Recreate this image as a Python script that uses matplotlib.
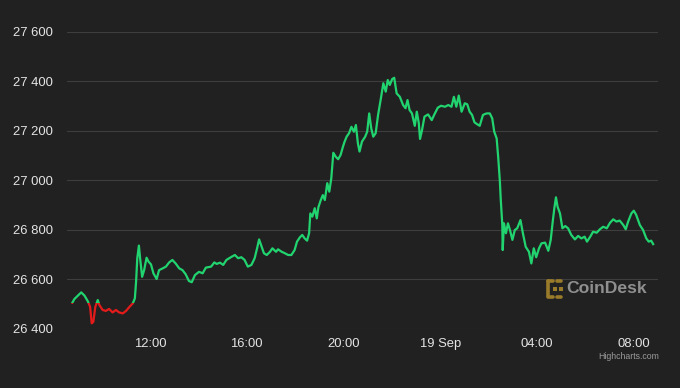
import matplotlib
matplotlib.use("Agg")
import matplotlib.pyplot as plt
from matplotlib.patches import Rectangle
from matplotlib.lines import Line2D

# minutes after 00:00 on 18 Sep, BTC price (USD)
minutes = [
    528, 533, 542, 550, 558, 566, 572, 576, 580, 585, 591, 595, 603, 611, 619, 628,
    636, 644, 653, 661, 670, 678, 683, 686, 689, 693, 696, 701, 706, 712, 717, 723,
    729, 737, 743, 752, 760, 768, 776, 784, 793, 801, 809, 817, 824, 832, 842, 851,
    859, 872, 880, 886, 894, 902, 910, 923, 931, 939, 947, 955, 963, 972, 980, 986,
    991, 996, 1003, 1010, 1018, 1024, 1033, 1038, 1047, 1055, 1063, 1071, 1079, 1085,
    1092, 1098, 1104, 1110, 1115, 1118, 1123, 1129, 1134, 1138, 1144, 1149, 1154, 1160,
    1165, 1170, 1175, 1181, 1187, 1193, 1199, 1203, 1208, 1214, 1220, 1226, 1231, 1236,
    1240, 1246, 1254, 1259, 1264, 1269, 1274, 1280, 1286, 1293, 1299, 1305, 1310, 1315,
    1321, 1326, 1332, 1340, 1348, 1354, 1359, 1364, 1370, 1377, 1382, 1387, 1390, 1395,
    1401, 1410, 1419, 1425, 1434, 1442, 1452, 1460, 1468, 1474, 1480, 1486, 1493, 1501,
    1507, 1513, 1519, 1525, 1532, 1538, 1546, 1555, 1563, 1569, 1574, 1580, 1584, 1588,
    1590, 1594, 1595, 1598, 1603, 1608, 1613, 1619, 1625, 1631, 1639, 1645, 1652, 1660,
    1666, 1672, 1678, 1685, 1691, 1700, 1708, 1714, 1719, 1723, 1727, 1731, 1737, 1743,
    1750, 1757, 1765, 1774, 1782, 1790, 1798, 1804, 1812, 1819, 1828, 1836, 1844, 1853,
    1861, 1869, 1877, 1885, 1894, 1900, 1906, 1914, 1920, 1926, 1935, 1943, 1951, 1957,
    1963, 1968,
]
prices = [
    26506, 26521, 26535, 26548, 26535, 26513, 26490, 26423, 26429, 26490, 26517, 26497,
    26477, 26473, 26481, 26467, 26477, 26467, 26463, 26473, 26490, 26504, 26524, 26591,
    26686, 26737, 26686, 26611, 26638, 26688, 26672, 26661, 26625, 26602, 26638, 26645,
    26652, 26669, 26679, 26665, 26645, 26638, 26621, 26594, 26589, 26618, 26631, 26625,
    26648, 26652, 26669, 26663, 26668, 26659, 26679, 26692, 26699, 26686, 26690, 26679,
    26652, 26659, 26686, 26726, 26762, 26739, 26706, 26699, 26712, 26726, 26712, 26722,
    26712, 26706, 26699, 26699, 26719, 26753, 26770, 26780, 26766, 26757, 26787, 26867,
    26854, 26888, 26847, 26892, 26921, 26941, 26921, 26989, 26955, 27009, 27112, 27096,
    27086, 27103, 27137, 27157, 27177, 27191, 27217, 27197, 27224, 27150, 27117, 27157,
    27177, 27197, 27271, 27211, 27177, 27191, 27265, 27332, 27393, 27359, 27406, 27386,
    27410, 27415, 27352, 27338, 27305, 27292, 27325, 27285, 27271, 27221, 27278, 27231,
    27168, 27204, 27258, 27267, 27244, 27265, 27294, 27302, 27298, 27305, 27298, 27338,
    27298, 27343, 27278, 27312, 27308, 27278, 27265, 27235, 27227, 27221, 27265, 27271,
    27271, 27251, 27197, 27170, 27090, 26995, 26928, 26820, 26719, 26827, 26787, 26827,
    26800, 26760, 26800, 26807, 26840, 26787, 26732, 26712, 26665, 26726, 26690, 26726,
    26746, 26749, 26716, 26760, 26834, 26888, 26932, 26894, 26867, 26807, 26816, 26807,
    26780, 26762, 26776, 26766, 26773, 26753, 26773, 26793, 26789, 26803, 26813, 26807,
    26829, 26843, 26834, 26838, 26820, 26803, 26834, 26867, 26878, 26861, 26820, 26800,
    26766, 26753, 26757, 26743,
]

x_ticks = [720, 960, 1200, 1440, 1680, 1920]
x_labels = ["12:00", "16:00", "20:00", "19 Sep", "04:00", "08:00"]
y_ticks = [26400, 26600, 26800, 27000, 27200, 27400, 27600]

bg = "#212121"
green = "#21d46f"
red = "#e41b1b"
label_color = "#e4e4e4"
threshold = prices[0]

plt.rcParams["font.family"] = ["Liberation Sans", "DejaVu Sans"]

fig = plt.figure(figsize=(6.8, 3.88), dpi=100, facecolor=bg)
ax = fig.add_axes([66.7 / 680, 59 / 388, 591.3 / 680, 297 / 388])
ax.set_facecolor(bg)

xmin, xmax = 514, 1980
ax.set_xlim(xmin, xmax)
ax.set_ylim(26400, 27600)

for v in y_ticks:
    ax.axhline(v, color="#3e3e3e", lw=0.8, zorder=1)

# green above opening price, red below
up, = ax.plot(minutes, prices, color=green, lw=1.6, solid_joinstyle="round", zorder=3)
down, = ax.plot(minutes, prices, color=red, lw=1.6, solid_joinstyle="round", zorder=3)
up.set_clip_path(Rectangle((xmin, threshold), xmax - xmin, 5000, transform=ax.transData))
down.set_clip_path(Rectangle((xmin, threshold - 5000), xmax - xmin, 5000, transform=ax.transData))

ax.set_xticks(x_ticks)
ax.set_xticklabels(x_labels)
ax.set_yticks(y_ticks)
ax.set_yticklabels([f"{v // 1000} {v % 1000:03d}" for v in y_ticks])
ax.tick_params(axis="y", length=0, pad=9.6, labelsize=9.4, labelcolor=label_color)
ax.tick_params(axis="x", length=0, pad=6.8, labelsize=9.4, labelcolor=label_color)
for s in ax.spines.values():
    s.set_visible(False)

# CoinDesk watermark
gold = "#9a7b2a"
W, H = 680, 388
def fl(xs, ys, **kw):
    fig.add_artist(Line2D([x / W for x in xs], [1 - y / H for y in ys],
                          color=gold, solid_capstyle="round", **kw))
fl([547.5, 547.5], [281, 296], lw=2.6)
fl([547.5, 553], [280.5, 280.5], lw=2.6)
fl([547.5, 553], [296.5, 296.5], lw=2.6)
fl([557, 561], [280.5, 280.5], lw=2.6)
fl([557, 561], [296.5, 296.5], lw=2.6)
fl([555], [288.5], lw=0, marker="s", markersize=2.2, markeredgewidth=0)
fl([560.5], [288.5], lw=0, marker="s", markersize=2.2, markeredgewidth=0)
fig.text(566 / W, 1 - 288.5 / H, "CoinDesk", color="#8f8f8f", fontsize=12.6,
         fontweight="bold", ha="left", va="center")

fig.text(659 / W, 1 - 356.5 / H, "Highcharts.com", color="#9a9a9a", fontsize=6.3,
         ha="right", va="center")

fig.savefig("out.png", dpi=100, facecolor=bg)
